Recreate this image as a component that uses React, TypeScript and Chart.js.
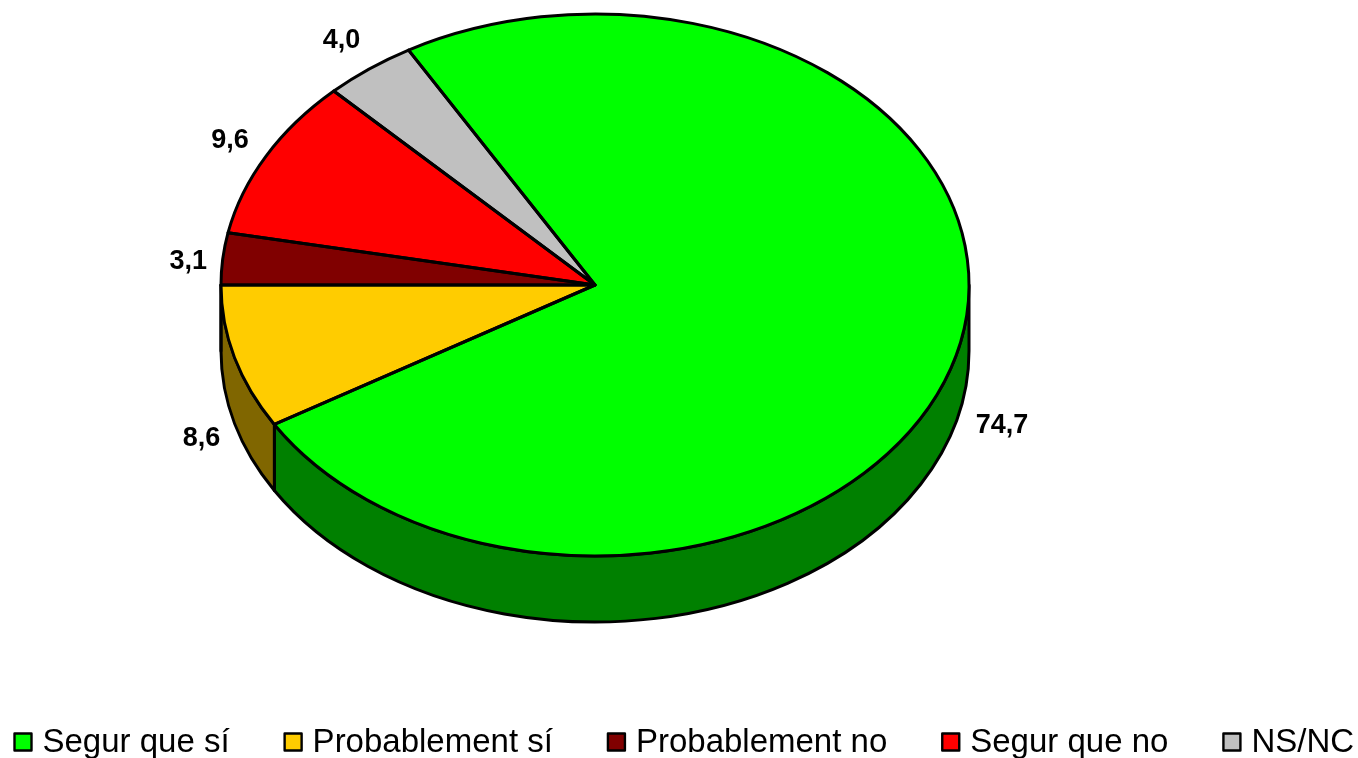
import React, { useEffect, useRef } from "react";
import { Chart, registerables } from "chart.js";

Chart.register(...registerables);

const categories = ["Segur que sí", "Probablement sí", "Probablement no", "Segur que no", "NS/NC"];
const values = [74.7, 8.6, 3.1, 9.6, 4.0];
const valueLabels = ["74,7", "8,6", "3,1", "9,6", "4,0"];
const colors = ["#00FF00", "#FFCC00", "#800000", "#FF0000", "#C0C0C0"];
const sideColors = ["#008000", "#806600", "#400000", "#800000", "#606060"];
const labelOffsets = [
  [45, 72],
  [-33, 81],
  [-34.5, 3],
  [-36, -15],
  [-28, -28],
];

const CX = 595;
const CY = 285;
const RX = 374;
const RY = 271;
const DEPTH = 66;
const STROKE = 3;

const piePlugin = {
  id: "pie3d",
  beforeDatasetsDraw(chart: any) {
    const ctx = chart.ctx;
    const arcs = chart.getDatasetMeta(0).data;
    ctx.save();
    ctx.lineWidth = STROKE;
    ctx.strokeStyle = "#000";
    ctx.lineJoin = "round";
    arcs.forEach((arc: any, i: number) => {
      // Visible wall: the part of the rim on the lower half of the ellipse.
      const ranges = [
        [arc.startAngle, arc.endAngle],
        [arc.startAngle - 2 * Math.PI, arc.endAngle - 2 * Math.PI],
      ];
      ranges.forEach(([s, e]) => {
        const a0 = Math.max(s, 0);
        const a1 = Math.min(e, Math.PI);
        if (a1 <= a0) return;
        ctx.beginPath();
        ctx.ellipse(CX, CY, RX, RY, 0, a0, a1);
        ctx.ellipse(CX, CY + DEPTH, RX, RY, 0, a1, a0, true);
        ctx.closePath();
        ctx.fillStyle = sideColors[i];
        ctx.fill();
        ctx.stroke();
      });
    });
    ctx.restore();
    const a = arcs[0];
    ctx.save();
    ctx.translate(CX, CY);
    ctx.scale(RX / a.outerRadius, RY / a.outerRadius);
    ctx.translate(-a.x, -a.y);
  },
  afterDatasetsDraw(chart: any) {
    const ctx = chart.ctx;
    ctx.restore();
    const arcs = chart.getDatasetMeta(0).data;
    ctx.save();
    ctx.lineWidth = STROKE;
    ctx.strokeStyle = "#000";
    ctx.lineJoin = "round";
    arcs.forEach((arc: any) => {
      ctx.beginPath();
      ctx.moveTo(CX, CY);
      ctx.ellipse(CX, CY, RX, RY, 0, arc.startAngle, arc.endAngle);
      ctx.closePath();
      ctx.stroke();
    });
    // Value labels
    ctx.fillStyle = "#000";
    ctx.font = 'bold 27px "Liberation Sans", Arial, sans-serif';
    ctx.textAlign = "center";
    ctx.textBaseline = "middle";
    arcs.forEach((arc: any, i: number) => {
      const mid = (arc.startAngle + arc.endAngle) / 2;
      const x = CX + RX * Math.cos(mid) + labelOffsets[i][0];
      const y = CY + RY * Math.sin(mid) + labelOffsets[i][1];
      ctx.fillText(valueLabels[i], x, y);
    });
    // Legend
    ctx.font = '33px "Liberation Sans", Arial, sans-serif';
    ctx.textAlign = "left";
    ctx.textBaseline = "alphabetic";
    let x = 14.5;
    categories.forEach((name, i) => {
      ctx.fillStyle = colors[i];
      ctx.fillRect(x, 733.5, 17, 17);
      ctx.lineWidth = 2.4;
      ctx.strokeRect(x, 733.5, 17, 17);
      ctx.fillStyle = "#000";
      ctx.fillText(name, x + 28, 752);
      x += 28 + ctx.measureText(name).width + 55;
    });
    ctx.restore();
  },
};

export default function App() {
  const ref = useRef<HTMLCanvasElement>(null);
  useEffect(() => {
    const chart = new Chart(ref.current as HTMLCanvasElement, {
      type: "pie",
      data: {
        labels: categories,
        datasets: [
          {
            data: values,
            backgroundColor: colors,
            borderWidth: 0,
          },
        ],
      },
      options: {
        responsive: false,
        animation: false,
        rotation: -29.9,
        layout: { padding: { left: 221, right: 389, top: 0, bottom: 0 } },
        plugins: { legend: { display: false }, tooltip: { enabled: false } },
      },
      plugins: [piePlugin],
    } as any);
    return () => chart.destroy();
  }, []);
  return (
    <div style={{ position: "fixed", left: 0, top: 0, width: 1358, height: 758, background: "#fff" }}>
      <canvas ref={ref} width={1358} height={758} style={{ display: "block" }} />
    </div>
  );
}
